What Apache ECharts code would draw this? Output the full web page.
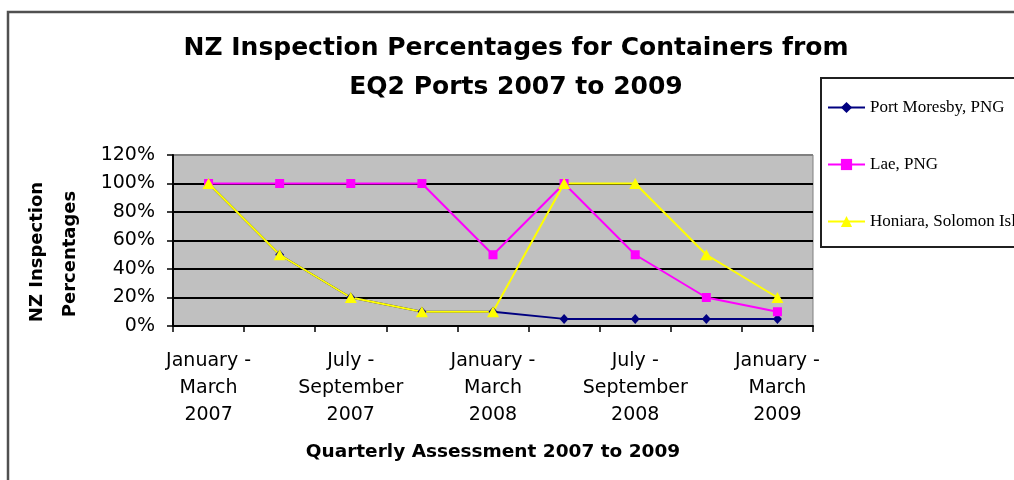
<!DOCTYPE html>
<html>
<head>
<meta charset="utf-8">
<script src="https://cdn.jsdelivr.net/npm/echarts@6/dist/echarts.min.js"></script>
<style>html,body{margin:0;padding:0;background:#fff;}#c{width:1014px;height:480px;}</style>
</head>
<body>
<div id="c"></div>
<script>
const categories = [
  'January -\nMarch\n2007', 'April -\nJune\n2007', 'July -\nSeptember\n2007', 'October -\nDecember\n2007',
  'January -\nMarch\n2008', 'April -\nJune\n2008', 'July -\nSeptember\n2008', 'October -\nDecember\n2008',
  'January -\nMarch\n2009'
];
const portMoresby = [100, 50, 20, 10, 10, 5, 5, 5, 5];
const lae = [100, 100, 100, 100, 50, 100, 50, 20, 10];
const honiara = [100, 50, 20, 10, 10, 100, 100, 50, 20];
const seriesNames = ['Port Moresby, PNG', 'Lae, PNG', 'Honiara, Solomon Islands'];
const yTicks = [0, 20, 40, 60, 80, 100, 120];
const yNameLines = ['NZ Inspection', 'Percentages'];

const chart = echarts.init(document.getElementById('c'), null, {renderer: 'canvas'});
const sans = 'DejaVu Sans';
const yNameStyle = {fontFamily: sans, fontWeight: 'bold', fontSize: 18, fill: '#000', textAlign: 'center', textVerticalAlign: 'middle'};
chart.setOption({
  animation: false,
  backgroundColor: '#fff',
  title: {
    text: 'NZ Inspection Percentages for Containers from\nEQ2 Ports 2007 to 2009',
    left: 516, top: 29, textAlign: 'center', padding: 0,
    textStyle: {fontFamily: sans, fontWeight: 'bold', fontSize: 25, lineHeight: 39, color: '#000'}
  },
  graphic: [
    {type: 'rect', shape: {x: 8, y: 12, width: 1030, height: 500},
     style: {fill: 'none', stroke: '#505050', lineWidth: 2.5}, z: 100, silent: true},
    {type: 'text', x: 37, y: 252, rotation: Math.PI / 2, style: Object.assign({text: yNameLines[0]}, yNameStyle)},
    {type: 'text', x: 70, y: 254, rotation: Math.PI / 2, style: Object.assign({text: yNameLines[1]}, yNameStyle)}
  ],
  legend: {
    orient: 'vertical', left: 821, top: 78,
    padding: [21, 200, 17, 6], itemGap: 40, itemWidth: 37, itemHeight: 14,
    backgroundColor: '#fff', borderColor: '#202020', borderWidth: 2,
    textStyle: {fontFamily: 'Liberation Serif', fontSize: 17, color: '#000'},
    data: seriesNames
  },
  grid: {
    left: 173, right: 201, top: 155, bottom: 154, show: true,
    backgroundColor: '#C0C0C0', borderColor: '#808080', borderWidth: 1
  },
  xAxis: {
    type: 'category', data: categories, boundaryGap: true,
    name: 'Quarterly Assessment 2007 to 2009', nameLocation: 'middle', nameGap: 117,
    nameTextStyle: {fontFamily: sans, fontWeight: 'bold', fontSize: 18.5, color: '#000'},
    axisLine: {show: true, lineStyle: {color: '#000', width: 2}},
    axisTick: {show: true, interval: 0, length: 6, lineStyle: {color: '#000', width: 1.5}},
    axisLabel: {interval: 1, margin: 22, fontFamily: sans, fontSize: 19, lineHeight: 27, color: '#000'},
    splitLine: {show: false}
  },
  yAxis: {
    type: 'value', min: yTicks[0], max: yTicks[yTicks.length - 1], interval: 20,
    axisLine: {show: true, lineStyle: {color: '#000', width: 2}},
    axisTick: {show: true, length: 6, lineStyle: {color: '#000', width: 1.5}},
    axisLabel: {formatter: '{value}%', margin: 18, fontFamily: sans, fontSize: 19, color: '#000'},
    splitLine: {show: true, lineStyle: {color: ['#000', '#000', '#000', '#000', '#000', '#000', '#808080'], width: 2}}
  },
  series: [
    {name: seriesNames[0], type: 'line', data: portMoresby, symbol: 'diamond', symbolSize: [9, 10],
     itemStyle: {color: '#000080'}, lineStyle: {color: '#000080', width: 2}},
    {name: seriesNames[1], type: 'line', data: lae, symbol: 'rect', symbolSize: 9,
     itemStyle: {color: '#FF00FF'}, lineStyle: {color: '#FF00FF', width: 2}},
    {name: seriesNames[2], type: 'line', data: honiara, symbol: 'triangle', symbolSize: [12, 11],
     itemStyle: {color: '#FFFF00'}, lineStyle: {color: '#FFFF00', width: 2}}
  ]
});
</script>
</body>
</html>
